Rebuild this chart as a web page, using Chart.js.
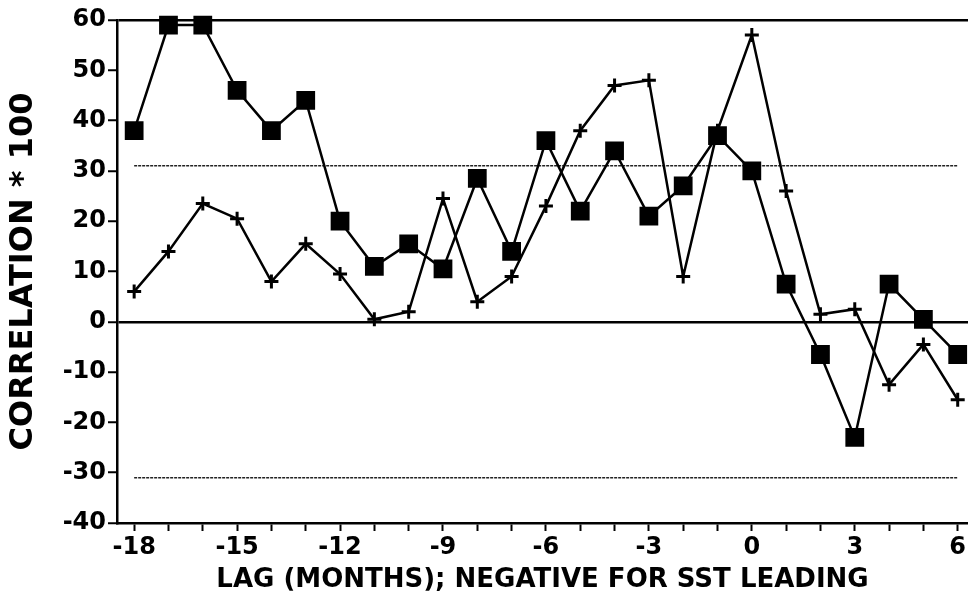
<!DOCTYPE html>
<html>
<head>
<meta charset="utf-8">
<script src="https://cdn.jsdelivr.net/npm/chart.js@4/dist/chart.umd.min.js"></script>
<style>
    html, body { margin: 0; padding: 0; background: #fff; overflow: hidden; }
    canvas { display: block; }
</style>
</head>
<body>
<canvas id="chart1" width="968" height="600"></canvas>
<script>
const lags = [-18, -17, -16, -15, -14, -13, -12, -11, -10, -9, -8, -7, -6, -5, -4, -3, -2, -1, 0, 1, 2, 3, 4, 5, 6];
const squareSeries = [38, 59, 59, 46, 38, 44, 20, 11, 15.5, 10.5, 28.5, 14, 36, 22, 34, 21, 27, 37, 30, 7.5, -6.5, -23, 7.5, 0.5, -6.5];
const plusSeries = [6, 14, 23.5, 20.5, 8, 15.5, 9.5, 0.5, 2, 24.5, 4, 9, 23, 38, 47, 48, 9, 38, 57, 26, 1.5, 2.5, -12.5, -4.5, -15.5];
const sigLevel = 31;
const yTicks = [-40, -30, -20, -10, 0, 10, 20, 30, 40, 50, 60];
const xLabelTicks = [-18, -15, -12, -9, -6, -3, 0, 3, 6];

(function() {
    Chart.defaults.font.family = '"DejaVu Sans", sans-serif';
    Chart.defaults.font.weight = 'bold';
    Chart.defaults.font.size = 24;
    Chart.defaults.color = '#000';

    const toPoints = values => values.map((v, i) => ({ x: lags[i], y: v }));
    const sigLine = level => [{ x: lags[0], y: level }, { x: lags[lags.length - 1], y: level }];

    const data = {
        datasets: [
            {
                data: toPoints(squareSeries),
                borderColor: '#000',
                backgroundColor: '#000',
                borderWidth: 2.5,
                pointStyle: 'rect',
                pointRadius: 11.5,
                clip: false
            },
            {
                data: toPoints(plusSeries),
                borderColor: '#000',
                backgroundColor: '#000',
                borderWidth: 2.5,
                pointStyle: 'cross',
                pointRadius: 7,
                pointBorderWidth: 3,
                clip: false
            },
            {
                data: sigLine(sigLevel),
                borderColor: '#222',
                borderWidth: 1.5,
                borderDash: [3, 1],
                pointRadius: 0
            },
            {
                data: sigLine(-sigLevel),
                borderColor: '#222',
                borderWidth: 1.5,
                borderDash: [3, 1],
                pointRadius: 0
            }
        ]
    };

    const options = {
        animation: false,
        responsive: false,
        layout: { autoPadding: false, padding: { top: 20, right: 0, left: 0, bottom: 0 } },
        plugins: {
            legend: { display: false },
            tooltip: { enabled: false }
        },
        scales: {
            x: {
                type: 'linear',
                min: -18.5,
                max: 6.3,
                afterBuildTicks: axis => { axis.ticks = lags.map(v => ({ value: v })) },
                afterFit: axis => {
                    axis.height = 77;
                    axis.paddingLeft = 0;
                    axis.paddingRight = 0;
                },
                grid: {
                    drawOnChartArea: false,
                    tickColor: '#000',
                    tickLength: 8,
                    tickWidth: 2
                },
                border: { color: '#000', width: 2.5 },
                ticks: {
                    autoSkip: false,
                    maxRotation: 0,
                    padding: 2,
                    callback: v => xLabelTicks.includes(v) ? v : ''
                },
                title: {
                    display: true,
                    text: 'LAG (MONTHS); NEGATIVE FOR SST LEADING',
                    font: { size: 26 },
                    padding: { top: 0 }
                }
            },
            y: {
                min: -40,
                max: 60,
                afterBuildTicks: axis => { axis.ticks = yTicks.map(v => ({ value: v })) },
                afterFit: axis => { axis.width = 117 },
                grid: {
                    color: ctx => (ctx.tick && (ctx.tick.value === 0 || ctx.tick.value === 60)) ? '#000' : 'rgba(0,0,0,0)',
                    lineWidth: 2.5,
                    tickColor: '#000',
                    tickLength: 9,
                    tickWidth: 2
                },
                border: { color: '#000', width: 2.5 },
                ticks: { padding: 2 },
                title: {
                    display: true,
                    text: 'CORRELATION * 100',
                    font: { size: 32 },
                    padding: { top: 4, bottom: 0 }
                }
            }
        }
    };

    new Chart('chart1', { type: 'line', data, options });
})();
</script>
</body>
</html>
